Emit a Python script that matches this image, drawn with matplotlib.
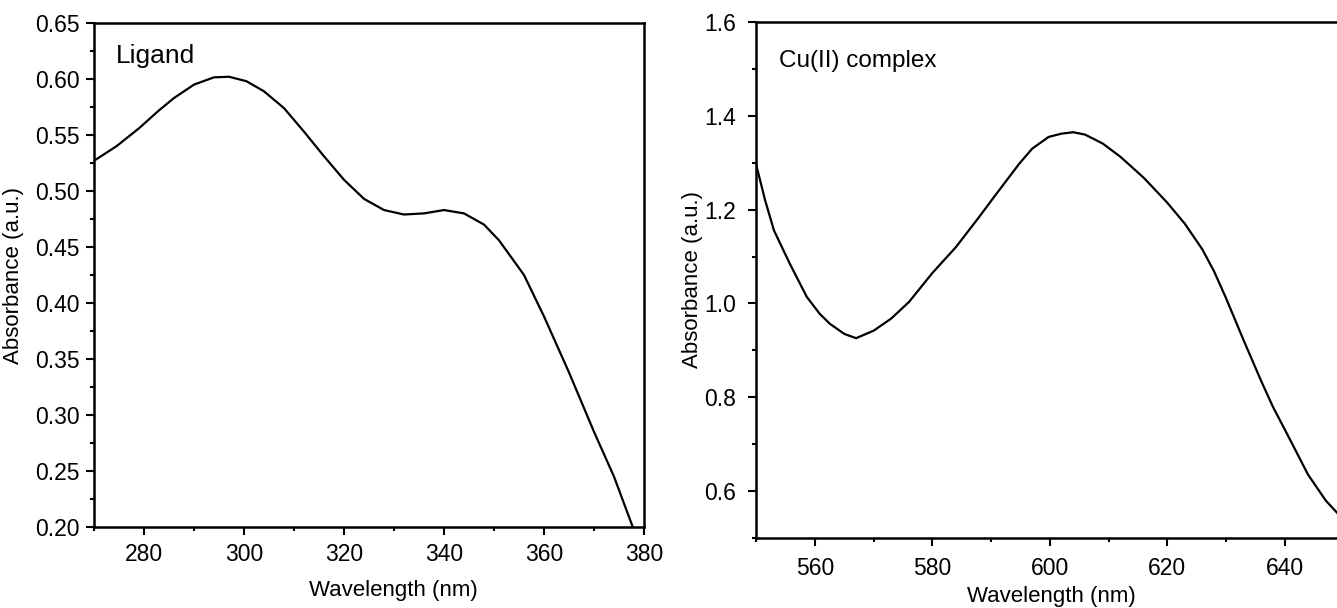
import matplotlib
matplotlib.use("Agg")
import matplotlib.pyplot as plt
from matplotlib.ticker import MultipleLocator, FormatStrFormatter

plt.rcParams['font.family'] = ['Liberation Sans', 'DejaVu Sans']

# Ligand spectrum
ligand_nm = [270, 274.5, 279, 283, 286, 290, 294, 297, 300.5, 304, 308, 312,
             316, 320, 324, 328, 332, 336, 340, 344, 348, 351, 356, 360, 365,
             370, 374, 378]
ligand_abs = [0.527, 0.540, 0.556, 0.572, 0.583, 0.595, 0.6015, 0.602, 0.598,
              0.589, 0.574, 0.553, 0.531, 0.510, 0.493, 0.483, 0.479, 0.480,
              0.483, 0.480, 0.470, 0.456, 0.425, 0.388, 0.338, 0.285, 0.245,
              0.197]

# Cu(II) complex spectrum
cu_nm = [550, 551.5, 553, 555.7, 558.6, 560.8, 562.5, 565, 567, 570, 573, 576,
         580, 584, 588, 590.5, 594.8, 597, 599.8, 602, 604, 606, 609, 612, 616,
         620, 623, 626, 628, 630, 633, 636, 638, 640.5, 644, 647, 649, 651]
cu_abs = [1.295, 1.22, 1.156, 1.085, 1.014, 0.978, 0.957, 0.935, 0.926, 0.942,
          0.968, 1.003, 1.065, 1.12, 1.185, 1.227, 1.298, 1.33, 1.355, 1.362,
          1.365, 1.36, 1.341, 1.313, 1.268, 1.215, 1.17, 1.115, 1.068, 1.012,
          0.922, 0.835, 0.78, 0.72, 0.635, 0.58, 0.553, 0.53]

W, H = 1337, 608
fig = plt.figure(figsize=(W / 100, H / 100), dpi=100)

ax1 = fig.add_axes([94 / W, (H - 527) / H, 550 / W, 504 / H])
ax2 = fig.add_axes([756.3 / W, (H - 538) / H, 587 / W, 516 / H])

ax1.plot(ligand_nm, ligand_abs, color='black', lw=1.6)
ax2.plot(cu_nm, cu_abs, color='black', lw=1.6)

ax1.set_xlim(270, 380)
ax1.set_ylim(0.20, 0.65)
ax1.xaxis.set_major_locator(MultipleLocator(20))
ax1.xaxis.set_minor_locator(MultipleLocator(10))
ax1.yaxis.set_major_locator(MultipleLocator(0.05))
ax1.yaxis.set_minor_locator(MultipleLocator(0.025))
ax1.yaxis.set_major_formatter(FormatStrFormatter('%.2f'))
ax1.set_xticks([280, 300, 320, 340, 360, 380])

ax2.set_xlim(550, 650)
ax2.set_ylim(0.5, 1.6)
ax2.xaxis.set_major_locator(MultipleLocator(20))
ax2.xaxis.set_minor_locator(MultipleLocator(10))
ax2.yaxis.set_major_locator(MultipleLocator(0.2))
ax2.yaxis.set_minor_locator(MultipleLocator(0.1))
ax2.yaxis.set_major_formatter(FormatStrFormatter('%.1f'))
ax2.set_xticks([560, 580, 600, 620, 640])
ax2.set_yticks([0.6, 0.8, 1.0, 1.2, 1.4, 1.6])

for ax in (ax1, ax2):
    for s in ax.spines.values():
        s.set_linewidth(1.8)
    ax.tick_params(which='major', direction='out', length=5.5, width=1.5,
                   labelsize=16.5)
    ax.tick_params(which='minor', direction='out', length=3, width=1.5)

ax1.tick_params(axis='y', pad=5)
ax1.tick_params(axis='x', pad=6)
ax2.tick_params(axis='y', pad=9)
ax2.tick_params(axis='x', pad=8)

ax1.set_xlabel("Wavelength (nm)", fontsize=16)
ax1.xaxis.set_label_coords(0.544, -0.105)
ax1.set_ylabel("Absorbance (a.u.)", fontsize=16)
ax1.yaxis.set_label_coords(-0.127, 0.5)

ax2.set_xlabel("Wavelength (nm)", fontsize=16)
ax2.xaxis.set_label_coords(0.503, -0.093)
ax2.set_ylabel("Absorbance (a.u.)", fontsize=16)
ax2.yaxis.set_label_coords(-0.091, 0.5)

ax1.text(0.04, 0.935, "Ligand", transform=ax1.transAxes, fontsize=19,
         va='center', ha='left')
ax2.text(0.039, 0.925, "Cu(II) complex", transform=ax2.transAxes,
         fontsize=17.5, va='center', ha='left')

fig.savefig("out.png", dpi=100)
